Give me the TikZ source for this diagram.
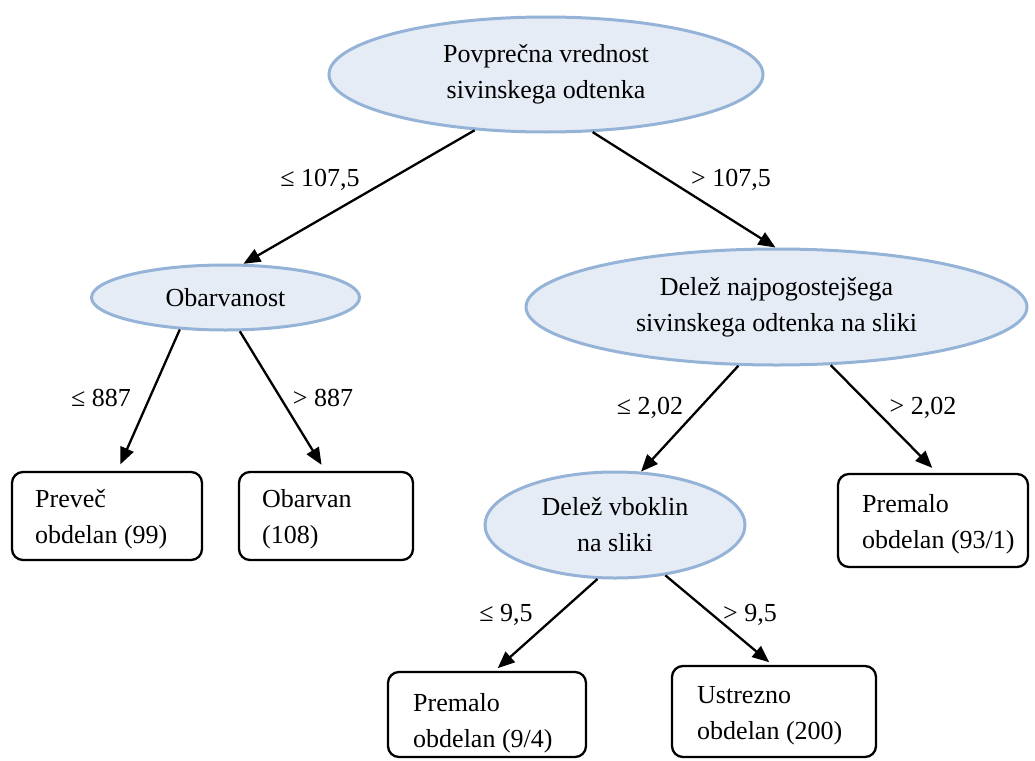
\documentclass[tikz,border=0pt]{standalone}
\usepackage{fontspec}
\setmainfont{Liberation Serif}
\usetikzlibrary{shapes.geometric,arrows.meta}
\definecolor{efill}{RGB}{229,236,246}
\definecolor{eline}{RGB}{149,179,215}
\begin{document}
\begin{tikzpicture}[x=1pt,y=-1pt,
  every node/.style={font=\fontsize{26}{36}\selectfont},
  ell/.style={ellipse, draw=eline, fill=efill, line width=3pt, inner sep=0pt, align=center},
  leaf/.style={draw=black, line width=2.3pt, rounded corners=11pt, inner sep=0pt},
  leaftext/.style={align=left, inner sep=0pt, anchor=west},
  conn/.style={line width=2.3pt, -{Triangle[length=17pt,width=14pt]}},
  lbl/.style={inner sep=0pt}
]
\useasboundingbox (0,0) rectangle (1035,760);

% decision ellipses
\node[ell, minimum width=434pt, minimum height=115pt] (R) at (546,74.5) {Povprečna vrednost\\sivinskega odtenka};
\node[ell, minimum width=268pt, minimum height=65pt] (O) at (225.5,297.5) {Obarvanost};
\node[ell, minimum width=501pt, minimum height=116pt] (D) at (776.5,307) {Delež najpogostejšega\\sivinskega odtenka na sliki};
\node[ell, minimum width=260pt, minimum height=106pt] (V) at (615,525) {Delež vboklin\\na sliki};

% leaves
\node[leaf, minimum width=190pt, minimum height=88pt] (b1) at (107,516) {};
\node[leaftext] (b1t) at (35,519) {Preveč\\obdelan (99)};
\node[leaf, minimum width=174pt, minimum height=88pt] (b2) at (326,516) {};
\node[leaftext] (b2t) at (262,519) {Obarvan\\(108)};
\node[leaf, minimum width=190pt, minimum height=93pt] (b3) at (933,520.5) {};
\node[leaftext] (b3t) at (862,524) {Premalo\\obdelan (93/1)};
\node[leaf, minimum width=198pt, minimum height=85pt] (b4) at (487,714.5) {};
\node[leaftext] (b4t) at (413,723) {Premalo\\obdelan (9/4)};
\node[leaf, minimum width=204pt, minimum height=91pt] (b5) at (774,711.5) {};
\node[leaftext] (b5t) at (697,716) {Ustrezno\\obdelan (200)};

% connectors
\draw[conn] (R.218) -- (O.62);
\draw[conn] (R.309) -- (D.91);
\draw[conn, shorten >=7pt] (O.215) -- (b1.77);
\draw[conn, shorten >=7pt] (O.293) -- (b2.91);
\draw[conn] (D.237) -- (V.64);
\draw[conn, shorten >=7pt] (D.313) -- (b3.85);
\draw[conn, shorten >=4pt] (V.252) -- (b4.80);
\draw[conn, shorten >=4pt] (V.315) -- (b5.92);

% edge labels
\node[lbl] (l1) at (320,180) {≤ 107,5};
\node[lbl] (l2) at (731,180) {> 107,5};
\node[lbl] (l3) at (101,398) {≤ 887};
\node[lbl] (l4) at (323,398) {> 887};
\node[lbl] (l5) at (650,408) {≤ 2,02};
\node[lbl] (l6) at (923,408) {> 2,02};
\node[lbl] (l7) at (506,615) {≤ 9,5};
\node[lbl] (l8) at (750,615) {> 9,5};
\end{tikzpicture}
\end{document}
